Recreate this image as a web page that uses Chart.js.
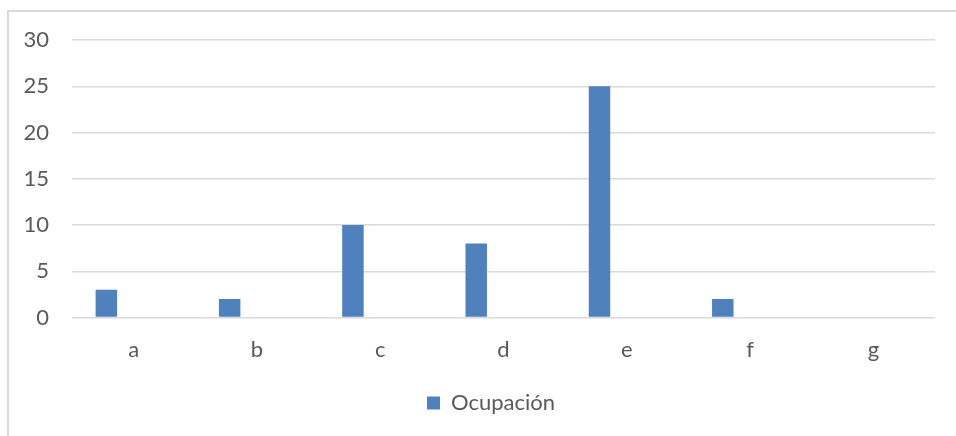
<!DOCTYPE html>
<html lang="es">
<head>
    <meta charset="UTF-8">
    <title>Ocupación</title>
    <script src="https://cdn.jsdelivr.net/npm/chart.js"></script>
    <style>
        body {
            margin: 0;
            width: 956px;
            height: 436px;
            overflow: hidden;
            background: #fff;
            position: relative;
        }
        #frame {
            position: absolute;
            left: 7px;
            top: 10px;
            width: 1000px;
            height: 500px;
            border: 2px solid #d9d9d9;
        }
        #wrap {
            position: absolute;
            left: 0;
            top: 0;
            width: 962px;
            height: 436px;
        }
    </style>
</head>
<body>
    <div id="frame"></div>
    <div id="wrap"><canvas id="chart"></canvas></div>
    <script>
        const categories = ['a', 'b', 'c', 'd', 'e', 'f', 'g'];
        const ocupacion = [3, 2, 10, 8, 25, 2, 0];
        // two empty series in the source workbook, they still take room in each group
        const emptyA = [];
        const emptyB = [];
        const yTicks = [0, 5, 10, 15, 20, 25, 30];

        const textColor = '#595959';
        const gridColor = '#d9d9d9';
        const font = { family: 'Lato, "Open Sans", sans-serif', size: 22 };

        const ctx = document.getElementById('chart').getContext('2d');
        new Chart(ctx, {
            type: 'bar',
            data: {
                labels: categories,
                datasets: [
                    { label: 'Ocupación', data: ocupacion, backgroundColor: '#4f81bd' },
                    { label: 's2', data: emptyA, backgroundColor: '#c0504d' },
                    { label: 's3', data: emptyB, backgroundColor: '#9bbb59' }
                ]
            },
            options: {
                responsive: true,
                maintainAspectRatio: false,
                animation: false,
                categoryPercentage: 0.664,
                barPercentage: 0.787,
                layout: {
                    padding: { left: 20, right: 0, top: 40, bottom: 12 }
                },
                plugins: {
                    tooltip: { enabled: false },
                    legend: {
                        position: 'bottom',
                        labels: {
                            filter: (item) => item.datasetIndex === 0,
                            boxWidth: 13,
                            boxHeight: 13,
                            color: textColor,
                            font: font,
                            padding: 10
                        }
                    }
                },
                scales: {
                    x: {
                        grid: { display: false, drawTicks: false },
                        border: { display: false },
                        ticks: { color: textColor, font: font, padding: 19 }
                    },
                    y: {
                        min: 0,
                        max: 30,
                        afterFit: (scale) => { scale.width = 52; },
                        afterBuildTicks: (scale) => {
                            scale.ticks = yTicks.map(v => ({ value: v }));
                        },
                        grid: { color: gridColor, lineWidth: 1.5, drawTicks: false },
                        border: { display: false },
                        ticks: { color: textColor, font: font, padding: 23 }
                    },
                    // empty right margin inside the plot box
                    yRight: {
                        position: 'right',
                        min: 0,
                        max: 30,
                        afterFit: (scale) => { scale.width = 27; },
                        grid: { display: false, drawTicks: false },
                        border: { display: false },
                        ticks: { display: false }
                    }
                }
            }
        });
    </script>
</body>
</html>
